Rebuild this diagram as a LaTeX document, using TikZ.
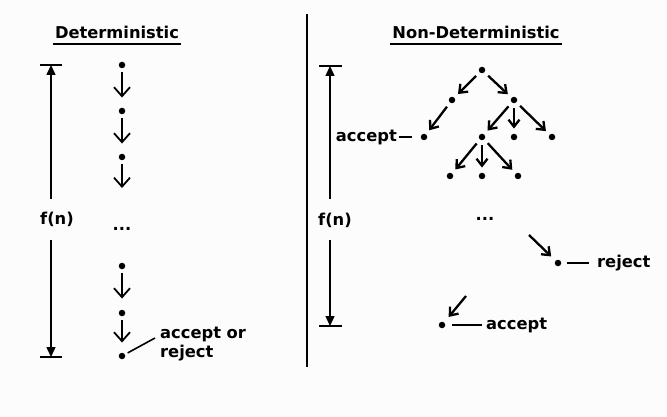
\documentclass[tikz,border=0pt]{standalone}
\usepackage{fontspec}
\setmainfont{DejaVu Sans}
\usetikzlibrary{arrows.meta}
\begin{document}
\begin{tikzpicture}[x=1pt,y=-1pt,
  dot/.style={circle,fill=black,inner sep=0pt,minimum size=6.5pt},
  lbl/.style={font=\fontsize{16.3}{19}\selectfont\bfseries,inner sep=0pt},
  darr/.style={line width=1.8pt,-{Straight Barb[length=9pt,width=16pt,line width=1.8pt]},shorten <=4pt,shorten >=10pt},
  tarr/.style={line width=2.3pt,-{Straight Barb[length=7pt,width=11pt,line width=2.3pt]},shorten <=5pt,shorten >=5pt},
  dimline/.style={line width=1.4pt},
  dimarr/.style={line width=1.4pt,-{Triangle[length=10pt,width=9pt]}},
  uline/.style={line width=1.6pt}]
\useasboundingbox[fill={rgb,255:red,252;green,252;blue,252}] (0,0) rectangle (667,417);
% titles
\node[lbl,anchor=base] (t1) at (117,39) {Deterministic};
\draw[uline] ([xshift=-2pt,yshift=-5pt]t1.base west) -- ([xshift=2pt,yshift=-5pt]t1.base east);
\node[lbl,anchor=base] (t2) at (476,39) {Non-Deterministic};
\draw[uline] ([xshift=-2pt,yshift=-5pt]t2.base west) -- ([xshift=2pt,yshift=-5pt]t2.base east);
% divider
\coordinate (dv1) at (307,14);
\coordinate (dv2) at (307,367);
\draw[line width=1.5pt] (dv1) -- (dv2);
% left dimension
\coordinate (lb1a) at (40,65); \coordinate (lb1b) at (62,65);
\coordinate (lb2a) at (40,357); \coordinate (lb2b) at (62,357);
\coordinate (lt) at (51,65); \coordinate (lm1) at (51,199);
\coordinate (lm2) at (51,240); \coordinate (lb) at (51,357);
\draw[dimline] (lb1a) -- (lb1b);
\draw[dimline] (lb2a) -- (lb2b);
\draw[dimarr] (lm1) -- (lt);
\draw[dimarr] (lm2) -- (lb);
\node[lbl] (fl) at (57,219) {f(n)};
% left column
\node[dot] (d1) at (122,65) {};
\node[dot] (d2) at (122,111) {};
\node[dot] (d3) at (122,157) {};
\coordinate (d3e) at (122,198);
\node[lbl,anchor=base] (ldots) at (122,230) {...};
\node[dot] (d4) at (122,266) {};
\node[dot] (d5) at (122,313) {};
\node[dot] (d6) at (122,356) {};
\draw[darr] (d1) -- (d2);
\draw[darr] (d2) -- (d3);
\draw[darr] (d3) -- (d3e);
\draw[darr,shorten >=11pt] (d4) -- (d5);
\draw[darr] (d5) -- (d6);
\node[lbl,anchor=west,align=left] (lres) at (160,344) {accept or\\reject};
\coordinate (lc) at (155,338);
\draw[line width=1.6pt,shorten <=3pt] (d6) -- (lc);
% right dimension
\coordinate (rb1a) at (319,66); \coordinate (rb1b) at (342,66);
\coordinate (rb2a) at (319,326); \coordinate (rb2b) at (342,326);
\coordinate (rt) at (330,66); \coordinate (rm1) at (330,199);
\coordinate (rm2) at (330,240); \coordinate (rb) at (330,326);
\draw[dimline] (rb1a) -- (rb1b);
\draw[dimline] (rb2a) -- (rb2b);
\draw[dimarr] (rm1) -- (rt);
\draw[dimarr] (rm2) -- (rb);
\node[lbl] (fr) at (335,220) {f(n)};
% tree
\node[dot] (r) at (482,70) {};
\node[dot] (a1) at (452,100) {};
\node[dot] (a2) at (514,100) {};
\node[dot] (b1) at (424,137) {};
\node[dot] (b2) at (482,137) {};
\node[dot] (b3) at (514,137) {};
\node[dot] (b4) at (552,137) {};
\node[dot] (c1) at (450,176) {};
\node[dot] (c2) at (482,176) {};
\node[dot] (c3) at (518,176) {};
\draw[tarr] (r) -- (a1);
\draw[tarr] (r) -- (a2);
\draw[tarr] (a1) -- (b1);
\draw[tarr] (a2) -- (b2);
\draw[tarr] (a2) -- (b3);
\draw[tarr] (a2) -- (b4);
\draw[tarr] (b2) -- (c1);
\draw[tarr] (b2) -- (c2);
\draw[tarr] (b2) -- (c3);
\node[lbl,anchor=east] (acc1) at (397,137) {accept};
\coordinate (acc1e) at (412,137);
\draw[line width=1.4pt] ([xshift=2pt]acc1.east) -- (acc1e);
\node[lbl,anchor=base] (rdots) at (485,220) {...};
% reject branch
\coordinate (rj0) at (529,235);
\node[dot] (rj) at (558,263) {};
\draw[tarr,shorten <=0pt,shorten >=6pt] (rj0) -- (rj);
\node[lbl,anchor=west] (rjl) at (597,263) {reject};
\coordinate (rjm) at (589,263);
\draw[line width=1.4pt,shorten <=6pt] (rj) -- (rjm);
% accept branch
\coordinate (ac0) at (466,296);
\node[dot] (ac) at (442,325) {};
\draw[tarr,shorten <=0pt,shorten >=7pt] (ac0) -- (ac);
\node[lbl,anchor=west] (acl) at (486,325) {accept};
\coordinate (acm) at (482,325);
\draw[line width=1.4pt,shorten <=7pt] (ac) -- (acm);
\end{tikzpicture}
\end{document}
